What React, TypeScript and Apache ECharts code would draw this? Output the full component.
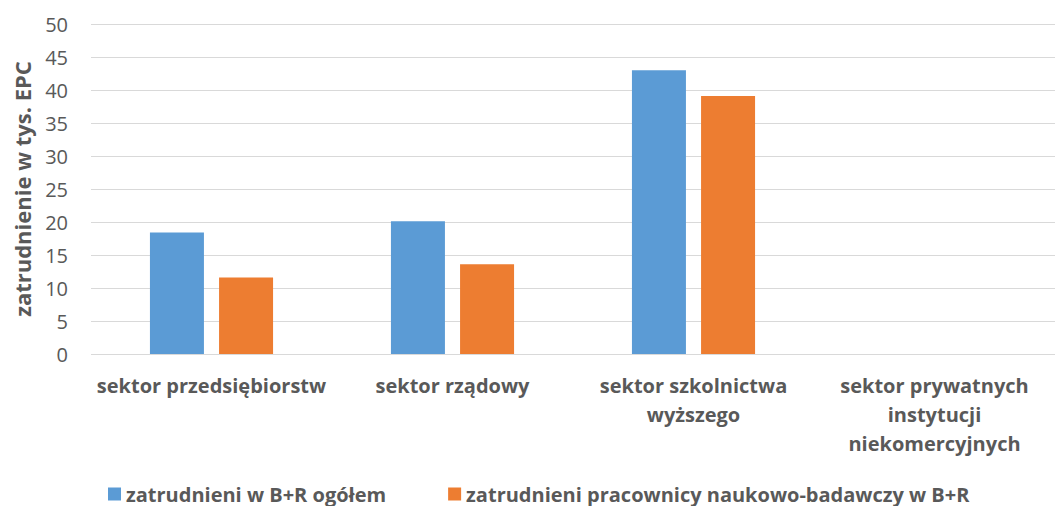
import React, { useEffect, useRef } from "react";
import * as echarts from "echarts";

const categories = [
  "sektor przedsiębiorstw",
  "sektor rządowy",
  "sektor szkolnictwa\nwyższego",
  "sektor prywatnych\ninstytucji\nniekomercyjnych",
];
const seriesNames = [
  "zatrudnieni w B+R ogółem",
  "zatrudnieni pracownicy naukowo-badawczy w B+R",
];
const totalEmployed = [18.4, 20.1, 43.0, 0];
const researchers = [11.6, 13.6, 39.1, 0];
const yAxisTitle = "zatrudnienie w tys. EPC";

const FONT = "'Open Sans', 'Noto Sans', sans-serif";
const TEXT = "#595959";

export default function App() {
  const ref = useRef<HTMLDivElement>(null);
  useEffect(() => {
    if (!ref.current) return;
    const chart = echarts.init(ref.current, undefined, { renderer: "svg" });
    chart.setOption({
      animation: false,
      textStyle: { fontFamily: FONT },
      color: ["#5B9BD5", "#ED7D31"],
      grid: { left: 91, top: 24, width: 972, height: 330 },
      legend: {
        left: 103,
        top: 479,
        itemWidth: 13,
        itemHeight: 13,
        itemGap: 62,
        icon: "rect",
        textStyle: { fontFamily: FONT, fontSize: 20, fontWeight: "bold", color: TEXT },
        data: seriesNames,
      },
      xAxis: {
        type: "category",
        data: categories,
        axisLine: { show: false },
        axisTick: { show: false },
        axisLabel: {
          interval: 0,
          margin: 17,
          fontFamily: FONT,
          fontSize: 20,
          fontWeight: "bold",
          color: TEXT,
          lineHeight: 29,
        },
      },
      yAxis: {
        type: "value",
        min: 0,
        max: 50,
        interval: 5,
        name: yAxisTitle,
        nameLocation: "middle",
        nameGap: 58,
        nameTextStyle: { fontFamily: FONT, fontSize: 22, fontWeight: "bold", color: TEXT },
        axisLine: { show: false },
        axisTick: { show: false },
        axisLabel: { margin: 23, fontFamily: FONT, fontSize: 20, color: TEXT },
        splitLine: { lineStyle: { color: "#D9D9D9", width: 1 } },
      },
      series: [
        {
          name: seriesNames[0],
          type: "bar",
          data: totalEmployed,
          barWidth: 54,
          barGap: "28%",
        },
        {
          name: seriesNames[1],
          type: "bar",
          data: researchers,
          barWidth: 54,
          barGap: "28%",
        },
      ],
    });
    return () => chart.dispose();
  }, []);
  return (
    <div
      ref={ref}
      style={{ position: "fixed", left: 0, top: 0, width: 1055, height: 506, background: "#fff" }}
    />
  );
}
